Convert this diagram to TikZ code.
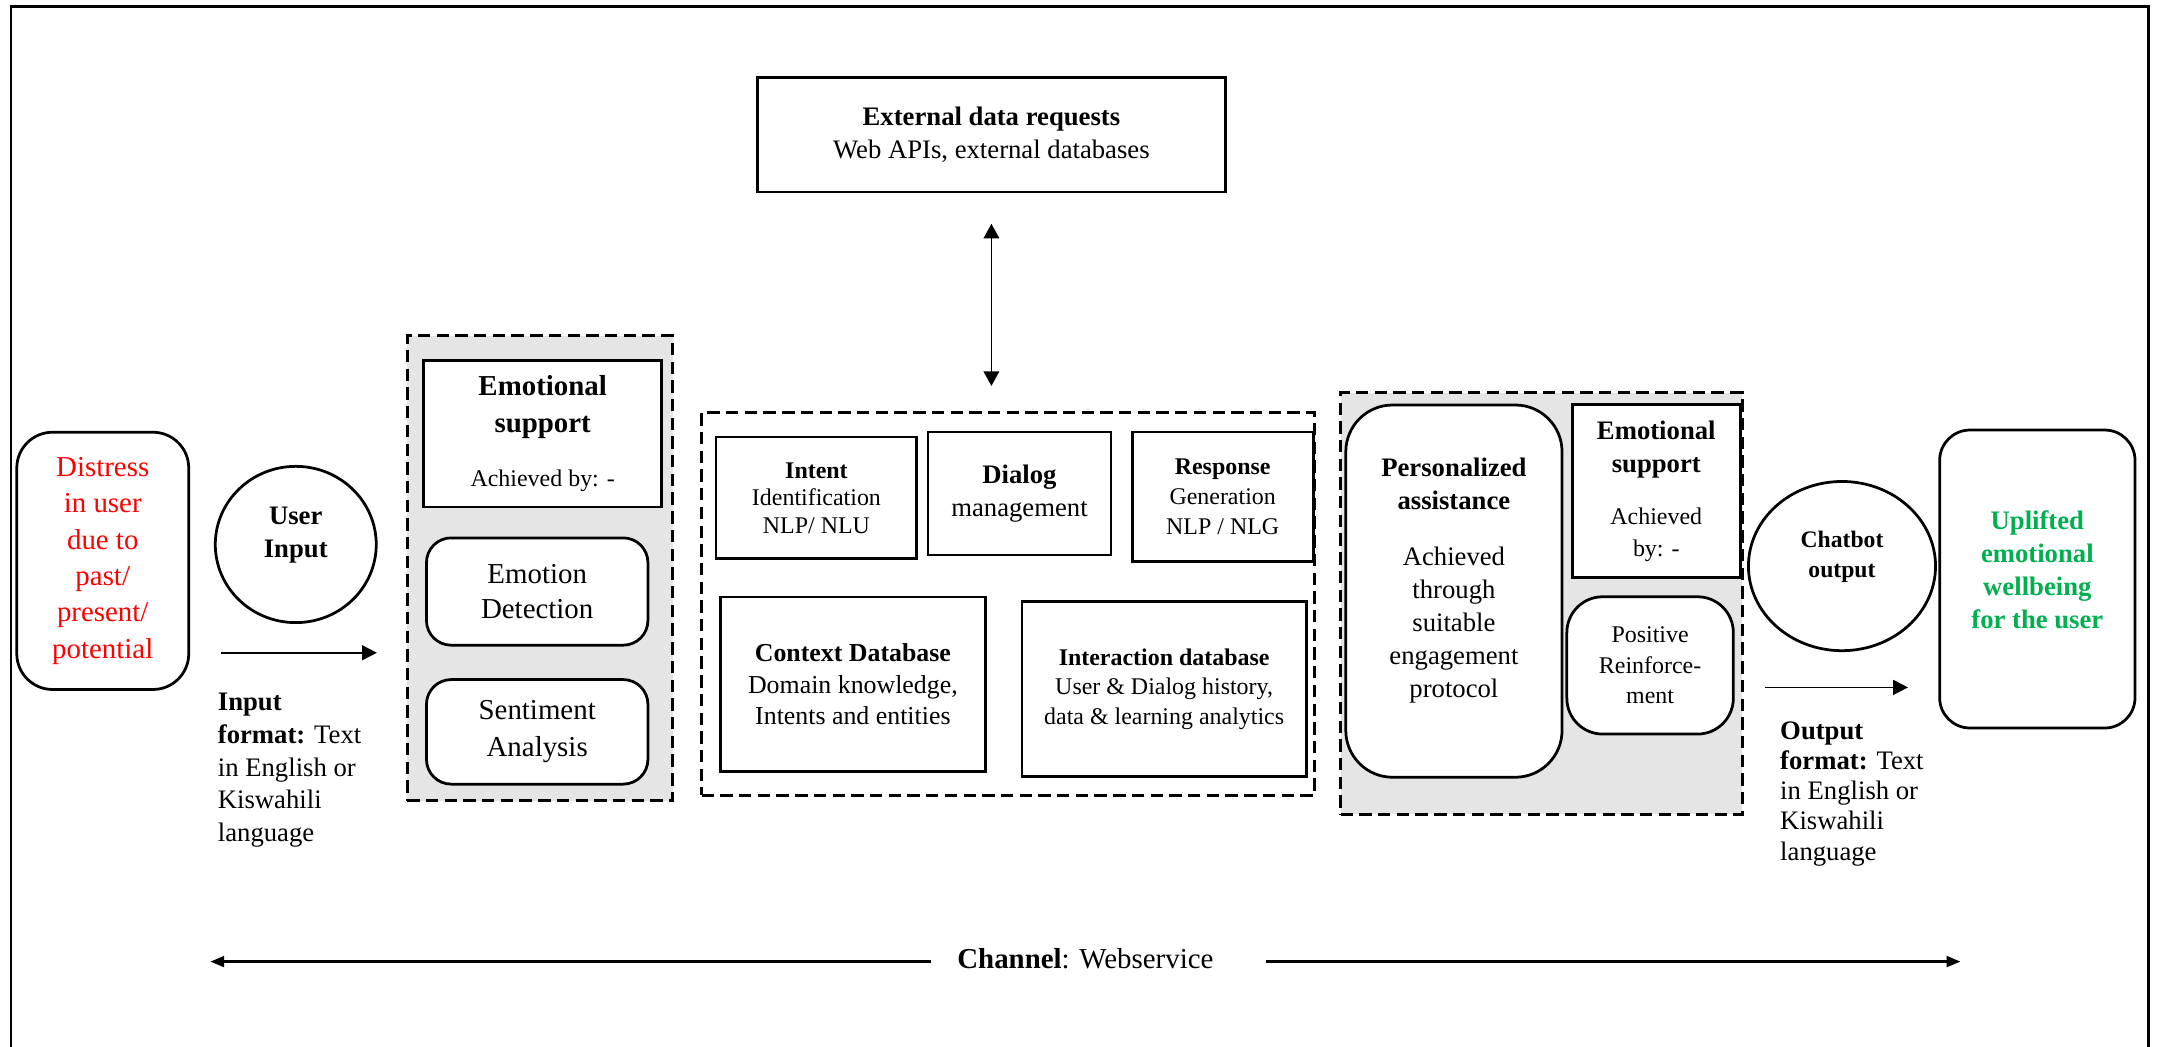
\documentclass[tikz,border=0pt]{standalone}
\usepackage{fontspec}
\setmainfont{Liberation Serif}
\usetikzlibrary{shapes.geometric,arrows.meta}
\definecolor{upgreen}{RGB}{0,176,80}
\newcommand\fbig{\fontsize{10.5}{13.2}\selectfont}
\newcommand\fmid{\fontsize{9.7}{12}\selectfont}
\newcommand\fsml{\fontsize{8.7}{10}\selectfont}
\tikzset{
  box/.style={draw, line width=1pt, inner sep=0pt, align=center, fill=white},
  rbox/.style={box, rounded corners=#1},
  dbox/.style={draw, line width=1.1pt, dash pattern=on 4.5pt off 2.3pt, inner sep=0pt},
  oval/.style={draw, ellipse, line width=1pt, inner sep=0pt, fill=white},
  txt/.style={inner sep=0pt, align=center},
  arr/.style={-{Triangle[length=5.4pt,width=5.4pt]}, line width=0.6pt},
  darr/.style={{Triangle[length=5.3pt,width=5.7pt]}-{Triangle[length=5.3pt,width=5.7pt]}, line width=0.6pt},
  carr/.style={-{Triangle[length=5pt,width=4pt]}, line width=0.8pt}
}
\begin{document}
\begin{tikzpicture}[x=0.5pt, y=-0.5pt]
\useasboundingbox (0,0) rectangle (1568,761);
\draw[line width=1pt](8,775) |- (1562,4.5) -- (1562,775);
\node[rbox=13pt, minimum width=62.5pt, minimum height=93.5pt, text=red, font=\fbig] (dis) at (74.7,407.7) {Distress\\in user\\due to\\past/\\present/\\potential};
\node[oval, minimum width=58.5pt, minimum height=56.8pt] (uin) at (215,395.8) {};
\node[txt, font=\fontsize{9.7}{11.8}\selectfont\bfseries] (uint) at (215,389) {User\\Input};
\coordinate (ina) at (161,474.5);
\coordinate (inb) at (274,474.5);
\draw[arr](ina) -- (inb);
\node[txt, align=left, anchor=west, font=\fontsize{9.7}{11.9}\selectfont] (infmt) at (158,560) {\textbf{Input}\\\textbf{format:} Text\\in English or\\Kiswahili\\language};
\node[dbox, fill=gray!20, minimum width=96.5pt, minimum height=169pt] (lpan) at (392.5,413) {};
\node[box, minimum width=86.5pt, minimum height=53.25pt, font=\fbig] (emo1) at (394.5,315.25) {\textbf{Emotional}\\\textbf{support}\\[6.5pt]{\fsml Achieved by: -}};
\node[rbox=9pt, minimum width=80.5pt, minimum height=39pt, font=\fontsize{10.5}{13}\selectfont] (edet) at (390.5,430) {Emotion\\Detection};
\node[rbox=9pt, minimum width=80.5pt, minimum height=38pt, font=\fontsize{10.5}{13.5}\selectfont] (sent) at (390.5,532) {Sentiment\\Analysis};
\node[box, minimum width=170pt, minimum height=41.5pt, font=\fmid] (ext) at (720.7,98) {\textbf{External data requests}\\Web APIs, external databases};
\node[dbox, minimum width=222.8pt, minimum height=139pt] (mpan) at (732.8,439) {};
\draw[darr, shorten <=11.1pt, shorten >=9.2pt](ext.south) -- (ext.south |- mpan.north);
\node[box, minimum width=73pt, minimum height=44.3pt, font=\fsml] (intent) at (593.5,361.9) {\textbf{Intent}\\Identification\\NLP/ NLU};
\node[box, minimum width=66.6pt, minimum height=44.7pt, font=\fmid] (dlg) at (741.1,358.7) {\textbf{Dialog}\\management};
\node[box, minimum width=65.8pt, minimum height=47pt, font=\fontsize{8.7}{10.8}\selectfont] (resp) at (888.8,361) {\textbf{Response}\\Generation\\NLP / NLG};
\node[box, minimum width=96.4pt, minimum height=63.5pt, font=\fontsize{9.4}{11.4}\selectfont] (ctx) at (620,497.5) {\textbf{Context Database}\\Domain knowledge,\\Intents and entities};
\node[box, minimum width=103.25pt, minimum height=63.8pt, font=\fontsize{8.7}{10.75}\selectfont] (ia) at (846.25,500.8) {\textbf{Interaction database}\\User \& Dialog history,\\data \& learning analytics};
\node[dbox, fill=gray!20, minimum width=146pt, minimum height=153.25pt] (rpan) at (1120.5,438.75) {};
\node[rbox=17pt, minimum width=78.6pt, minimum height=135.3pt] (pers) at (1056.9,429.7) {};
\node[txt, font=\fmid] (perst) at (1056.9,421.9) {\textbf{Personalized}\\\textbf{assistance}\\[8.2pt]Achieved\\through\\suitable\\engagement\\protocol};
\node[box, minimum width=61pt, minimum height=62.85pt, font=\fmid] (emo2) at (1204,356.85) {\textbf{Emotional}\\\textbf{support}\\[7pt]{\fsml Achieved}\\[-0.5pt]{\fsml by: -}};
\node[rbox=13pt, minimum width=60.5pt, minimum height=49.9pt, font=\fontsize{8.7}{11}\selectfont] (pos) at (1199.5,483.7) {Positive\\Reinforce-\\ment};
\node[oval, minimum width=68pt, minimum height=61.5pt] (cbo) at (1339,411.5) {};
\node[txt, font=\fontsize{8.6}{11}\selectfont\bfseries] (cbot) at (1339,404.7) {Chatbot\\output};
\coordinate (outa) at (1283,499.7);
\coordinate (outb) at (1387,499.7);
\draw[arr](outa) -- (outb);
\node[txt, align=left, anchor=west, font=\fontsize{9.7}{11}\selectfont] (outfmt) at (1293.7,577) {\textbf{Output}\\\textbf{format:} Text\\in English or\\Kiswahili\\language};
\node[rbox=11pt, minimum width=71pt, minimum height=108.3pt] (upl) at (1481,420.9) {};
\node[txt, text=upgreen, font=\fmid\bfseries] (uplt) at (1481,414) {Uplifted\\emotional\\wellbeing\\for the user};
\node[txt, font=\fbig] (chan) at (789,697) {\textbf{Channel}: Webservice};
\coordinate (chl) at (153,699);
\coordinate (chr) at (1425,699);
\draw[carr, shorten <=9.5pt](chan.west |- chl) -- (chl);
\draw[carr, shorten <=19pt](chan.east |- chr) -- (chr);
\end{tikzpicture}
\end{document}
